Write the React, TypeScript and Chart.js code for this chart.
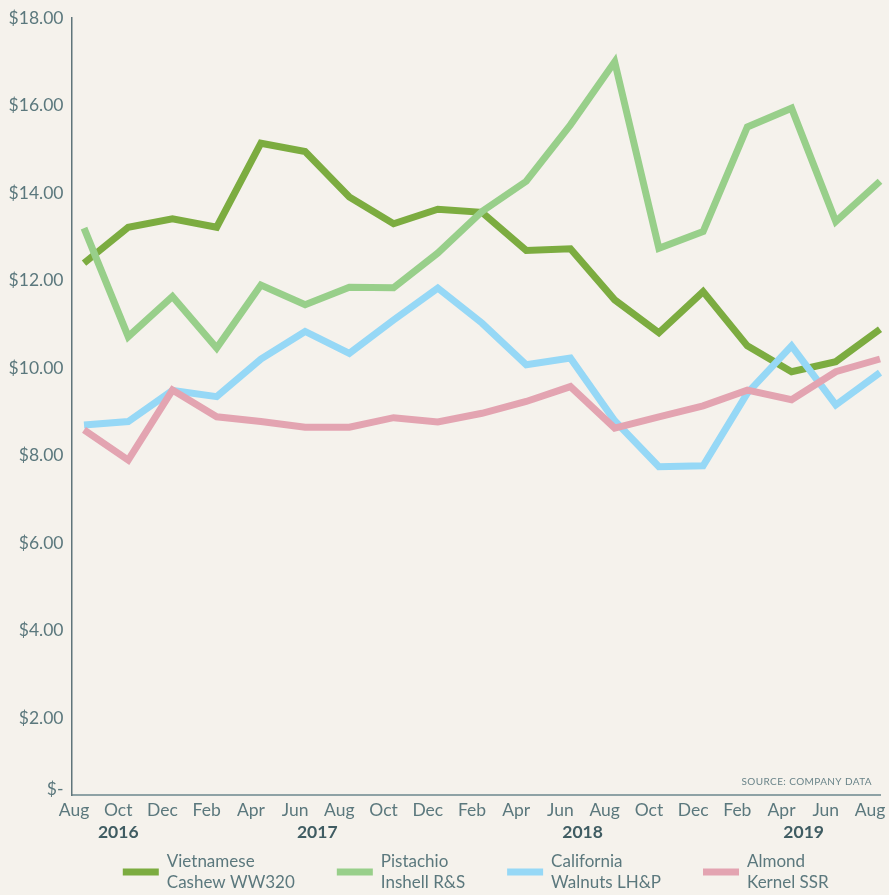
import React, { useEffect, useRef } from 'react';
import { Chart, registerables } from 'chart.js';

Chart.register(...registerables);

// ---- data ----
const months = ['Aug', 'Oct', 'Dec', 'Feb', 'Apr', 'Jun', 'Aug', 'Oct', 'Dec', 'Feb', 'Apr', 'Jun', 'Aug', 'Oct', 'Dec', 'Feb', 'Apr', 'Jun', 'Aug'];
const years = ['2016', '2017', '2018', '2019'];
const yearAnchors = [1, 5.5, 11.5, 16.5];

const cashew = [12.40, 13.22, 13.41, 13.22, 15.14, 14.95, 13.91, 13.30, 13.63, 13.56, 12.69, 12.73, 11.56, 10.81, 11.75, 10.51, 9.92, 10.15, 10.89];
const pistachio = [13.20, 10.72, 11.64, 10.46, 11.90, 11.45, 11.85, 11.84, 12.63, 13.58, 14.27, 15.56, 17.00, 12.74, 13.12, 15.51, 15.94, 13.35, 14.27];
const walnut = [8.70, 8.78, 9.49, 9.35, 10.21, 10.84, 10.34, 11.10, 11.83, 11.03, 10.08, 10.23, 8.80, 7.75, 7.77, 9.43, 10.51, 9.16, 9.90];
const almond = [8.59, 7.90, 9.50, 8.89, 8.78, 8.65, 8.65, 8.87, 8.77, 8.97, 9.24, 9.58, 8.63, 8.89, 9.14, 9.50, 9.28, 9.92, 10.21];

const seriesNames = [
  ['Vietnamese', 'Cashew WW320'],
  ['Pistachio', 'Inshell R&S'],
  ['California', 'Walnuts LH&P'],
  ['Almond', 'Kernel SSR'],
];
const yTickValues = [0, 2, 4, 6, 8, 10, 12, 14, 16, 18];
const sourceNote = 'SOURCE: COMPANY DATA';

// ---- styles ----
const COLORS = ['#7cac40', '#98cf8a', '#96d8f6', '#e3a4b1'];
const BG = '#f5f2ec';
const TEXT = '#5b787d';
const YEAR_TEXT = '#3f5c62';
const FONT = "Lato, 'Open Sans', 'Noto Sans', sans-serif";

const bgPlugin = {
  id: 'bg',
  beforeDraw(chart: any) {
    const ctx = chart.ctx;
    ctx.save();
    ctx.fillStyle = BG;
    ctx.fillRect(0, 0, chart.width, chart.height);
    ctx.restore();
  },
};

const legendPlugin = {
  id: 'customLegend',
  afterDraw(chart: any) {
    const ctx = chart.ctx;
    const area = chart.chartArea;
    const yearAxis = chart.scales.xYear;
    ctx.save();
    ctx.font = `17px ${FONT}`;
    const sw = 36;
    const gapSwatch = 8;
    const gapItem = 42;
    const widths = seriesNames.map((lines) => Math.max(...lines.map((l) => ctx.measureText(l).width)));
    const total = widths.reduce((a, w) => a + sw + gapSwatch + w, 0) + gapItem * (widths.length - 1);
    let x = (area.left + area.right) / 2 - total / 2;
    const cy = yearAxis.bottom + 27;
    chart.data.datasets.forEach((ds: any, i: number) => {
      ctx.fillStyle = ds.borderColor;
      ctx.fillRect(x, cy - 3.5, sw, 7);
      ctx.fillStyle = TEXT;
      ctx.textAlign = 'left';
      ctx.textBaseline = 'middle';
      ctx.fillText(seriesNames[i][0], x + sw + gapSwatch, cy - 10.5);
      ctx.fillText(seriesNames[i][1], x + sw + gapSwatch, cy + 10.5);
      x += sw + gapSwatch + widths[i] + gapItem;
    });
    // source note
    ctx.font = `10px ${FONT}`;
    (ctx as any).letterSpacing = '0.4px';
    ctx.fillStyle = '#6a8489';
    ctx.textAlign = 'right';
    ctx.textBaseline = 'middle';
    ctx.fillText(sourceNote, area.right - 8, area.bottom - 13);
    ctx.restore();
  },
};

export default function App() {
  const ref = useRef<HTMLCanvasElement | null>(null);

  useEffect(() => {
    document.body.style.margin = '0';
    document.body.style.background = BG;
    const canvas = ref.current;
    if (!canvas) return;
    const seriesValues = [cashew, pistachio, walnut, almond];
    const chart = new Chart(canvas, {
      type: 'line',
      data: {
        datasets: seriesValues.map((vals, i) => ({
          label: seriesNames[i].join(' '),
          data: vals.map((v, j) => ({ x: j, y: v })),
          borderColor: COLORS[i],
          backgroundColor: COLORS[i],
          borderWidth: 7,
          pointRadius: 0,
          pointHoverRadius: 0,
          tension: 0,
          borderJoinStyle: 'miter',
          borderCapStyle: 'butt',
          fill: false,
          clip: false,
          order: seriesValues.length - i,
        })),
      },
      options: {
        animation: false,
        responsive: false,
        devicePixelRatio: 1,
        layout: { padding: { top: 18, left: 0, right: 9, bottom: 50 } },
        plugins: { legend: { display: false }, tooltip: { enabled: false } },
        scales: {
          x: {
            type: 'linear',
            position: 'bottom',
            weight: 1,
            bounds: 'data',
            min: -0.283,
            max: 18,
            grid: { display: false, drawTicks: false },
            border: { display: true, color: '#8ea2a5', width: 2 },
            ticks: {
              autoSkip: false,
              maxRotation: 0,
              labelOffset: -10,
              padding: 5,
              color: TEXT,
              font: { family: FONT, size: 17.5 },
              callback: (_v: any, i: number) => months[i],
            },
            afterBuildTicks: (s: any) => {
              s.ticks = months.map((_, i) => ({ value: i }));
            },
            afterFit: (s: any) => {
              s.height = 27;
              s.paddingLeft = 0;
              s.paddingRight = 0;
            },
          },
          xYear: {
            type: 'linear',
            position: 'bottom',
            weight: 2,
            bounds: 'data',
            min: -0.283,
            max: 18,
            grid: { display: false, drawTicks: false },
            border: { display: false },
            ticks: {
              autoSkip: false,
              maxRotation: 0,
              labelOffset: -10,
              padding: 0,
              color: YEAR_TEXT,
              font: { family: FONT, size: 17.5, weight: 'bold' },
              callback: (_v: any, i: number) => years[i],
            },
            afterBuildTicks: (s: any) => {
              s.ticks = yearAnchors.map((v) => ({ value: v }));
            },
            afterFit: (s: any) => {
              s.height = 23;
              s.paddingLeft = 0;
              s.paddingRight = 0;
            },
          },
          y: {
            type: 'linear',
            bounds: 'data',
            min: 0.25,
            max: 18,
            grid: { display: false, drawTicks: false },
            border: { display: true, color: '#5f757a', width: 1.5 },
            ticks: {
              padding: 8,
              color: TEXT,
              font: { family: FONT, size: 17.5 },
              callback: (v: any) => (v < 1 ? '$-' : '$' + Number(v).toFixed(2)),
            },
            afterBuildTicks: (s: any) => {
              s.ticks = yTickValues.map((v) => ({ value: Math.max(v, s.min + 0.13) }));
            },
            afterFit: (s: any) => {
              s.width = 71.5;
              s.paddingTop = 0;
              s.paddingBottom = 0;
            },
          },
        },
      },
      plugins: [bgPlugin, legendPlugin],
    } as any);
    return () => chart.destroy();
  }, []);

  return (
    <div style={{ width: 889, height: 895, background: BG }}>
      <canvas ref={ref} width={889} height={895} style={{ display: 'block' }} />
    </div>
  );
}
